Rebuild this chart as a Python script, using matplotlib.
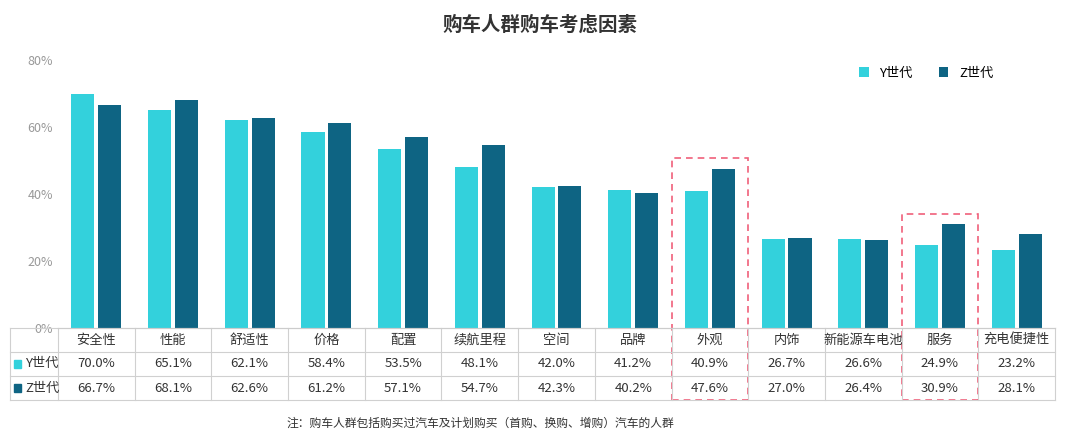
import matplotlib.pyplot as plt
from matplotlib.patches import Rectangle

plt.rcParams["font.family"] = "Noto Sans CJK SC"

categories = ["安全性", "性能", "舒适性", "价格", "配置", "续航里程", "空间", "品牌",
              "外观", "内饰", "新能源车电池", "服务", "充电便捷性"]
gen_y = [70.0, 65.1, 62.1, 58.4, 53.5, 48.1, 42.0, 41.2, 40.9, 26.7, 26.6, 24.9, 23.2]
gen_z = [66.7, 68.1, 62.6, 61.2, 57.1, 54.7, 42.3, 40.2, 47.6, 27.0, 26.4, 30.9, 28.1]
series = [("Y世代", gen_y, "#33D1DC"), ("Z世代", gen_z, "#0E6483")]
highlight = [8, 11]

fig = plt.figure(figsize=(10.8, 4.42), dpi=100)
ax = fig.add_axes([58 / 1080, 1 - 328 / 442, 997 / 1080, 268 / 442])
x = list(range(len(categories)))
w = 0.3
for i, (name, vals, color) in enumerate(series):
    off = -0.175 if i == 0 else 0.175
    ax.bar([v + off for v in x], vals, width=w, color=color, label=name)

ax.set_xlim(-0.5, len(categories) - 0.5)
ax.set_ylim(0, 80)
ax.set_yticks([0, 20, 40, 60, 80])
ax.set_yticklabels([f"{t}%" for t in [0, 20, 40, 60, 80]], color="#999999", fontsize=9)
ax.set_xticks([])
for s in ["top", "right", "left"]:
    ax.spines[s].set_visible(False)
ax.spines["bottom"].set_color("#cccccc")
ax.tick_params(axis="y", length=0)

# table beneath the bars
tr = ax.get_xaxis_transform()
rows_y = [0.0, -0.0896, -0.179, -0.269]
x_left = -1.126
line_kw = dict(color="#d0d0d0", lw=0.8, clip_on=False, transform=tr)
for yy in rows_y:
    ax.plot([x_left, len(categories) - 0.5], [yy, yy], **line_kw)
for b in [x_left] + [c - 0.5 for c in range(len(categories) + 1)]:
    ax.plot([b, b], [0, rows_y[-1]], **line_kw)
for c, name in enumerate(categories):
    ax.text(c, -0.0448, name, transform=tr, ha="center", va="center", fontsize=9.5, color="#333333")
    ax.text(c, -0.134, f"{gen_y[c]:.1f}%", transform=tr, ha="center", va="center", fontsize=9.5, color="#333333")
    ax.text(c, -0.224, f"{gen_z[c]:.1f}%", transform=tr, ha="center", va="center", fontsize=9.5, color="#333333")
for yy, (name, _, color) in zip([-0.134, -0.224], series):
    ax.add_patch(Rectangle((x_left + 0.05, yy - 0.015), 0.1, 0.03, color=color, transform=tr, clip_on=False))
    ax.text(x_left + 0.2, yy, name, transform=tr, ha="left", va="center", fontsize=9.5, color="#333333")

# dashed highlight boxes
for idx in highlight:
    top = (max(gen_y[idx], gen_z[idx]) + 3) / 80
    ax.add_patch(Rectangle((idx - 0.5, rows_y[-1]), 1.0, top - rows_y[-1], transform=tr, fill=False,
                           ec="#F0607A", ls=(0, (4, 3)), lw=1.2, clip_on=False))

ax.legend(loc="upper right", bbox_to_anchor=(0.95, 1.02), frameon=False, fontsize=9.5,
          handlelength=0.7, handleheight=0.7, ncol=2)
fig.text(0.5, 0.93, "购车人群购车考虑因素", ha="center", fontsize=14, fontweight="bold", color="#333333")
fig.text(0.445, 0.035, "注：购车人群包括购买过汽车及计划购买（首购、换购、增购）汽车的人群",
         ha="center", fontsize=8.5, color="#333333")
fig.savefig("out.png", dpi=100)
